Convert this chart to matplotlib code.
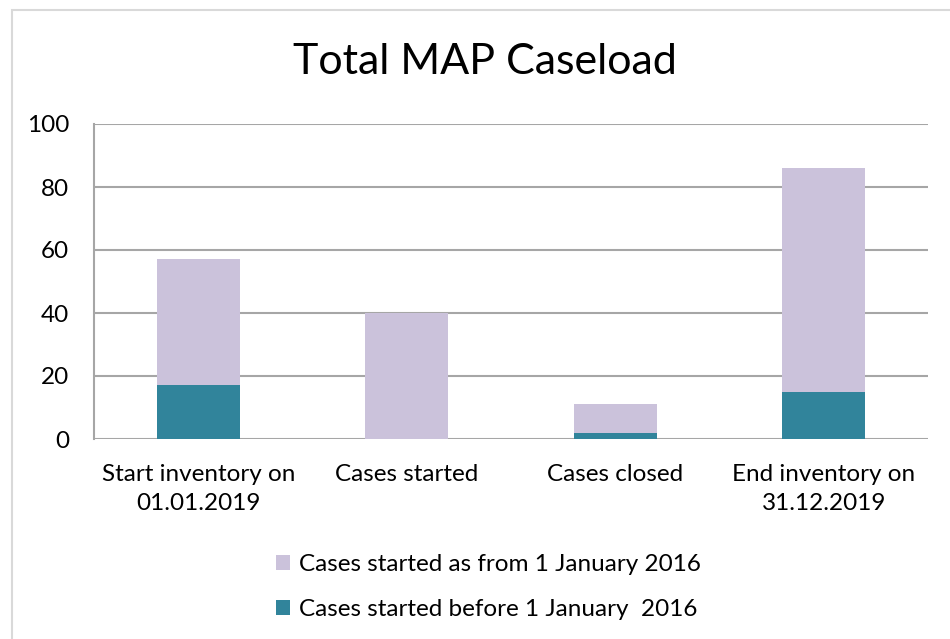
import matplotlib.pyplot as plt
import numpy as np
from matplotlib.patches import Rectangle, Patch

categories = ["Start inventory on\n01.01.2019", "Cases started", "Cases closed", "End inventory on\n31.12.2019"]
before_2016 = [17, 0, 2, 15]
from_2016 = [40, 40, 9, 71]
series_labels = ["Cases started as from 1 January 2016", "Cases started before 1 January  2016"]

LAVENDER = "#cbc2db"
TEAL = "#31849b"
GRID = "#a6a6a6"

plt.rcParams["font.family"] = ["Lato", "DejaVu Sans"]

fig = plt.figure(figsize=(9.5, 6.39), dpi=100)
ax = fig.add_axes([94 / 950, 1 - 439 / 639, 834 / 950, 315 / 639])

x = np.arange(len(categories))
ax.bar(x, before_2016, width=0.4, color=TEAL, zorder=3)
ax.bar(x, from_2016, width=0.4, bottom=before_2016, color=LAVENDER, zorder=3)

ax.set_xlim(-0.5, len(categories) - 0.5)
ax.set_ylim(0, 100)
ax.set_yticks(range(0, 101, 20))
ax.set_xticks(x)
ax.set_xticklabels(categories, fontsize=17.5, linespacing=1.5, va="top")
ax.tick_params(axis="y", labelsize=17.5, length=0, pad=18)
ax.tick_params(axis="x", length=0, pad=18)
ax.grid(axis="y", color=GRID, linewidth=1.5, zorder=0)
for side in ["top", "right", "bottom"]:
    ax.spines[side].set_visible(False)
ax.spines["left"].set_color(GRID)
ax.spines["left"].set_linewidth(1.5)

fig.text(485 / 950, 1 - 62 / 639, "Total MAP Caseload", ha="center", va="center", fontsize=31)

handles = [Patch(facecolor=LAVENDER), Patch(facecolor=TEAL)]
fig.legend(handles, series_labels, loc="center", bbox_to_anchor=(488 / 950, 1 - 587 / 639),
           frameon=False, fontsize=17.5, handlelength=0.6, handleheight=0.6,
           handletextpad=0.35, labelspacing=1.0, ncol=1)

fig.patches.append(Rectangle((12 / 950, -0.01), 1.0, 1 - 10 / 639 + 0.01, transform=fig.transFigure,
                             fill=False, edgecolor="#d9d9d9", linewidth=1.5))

plt.savefig("out.png", dpi=100)
